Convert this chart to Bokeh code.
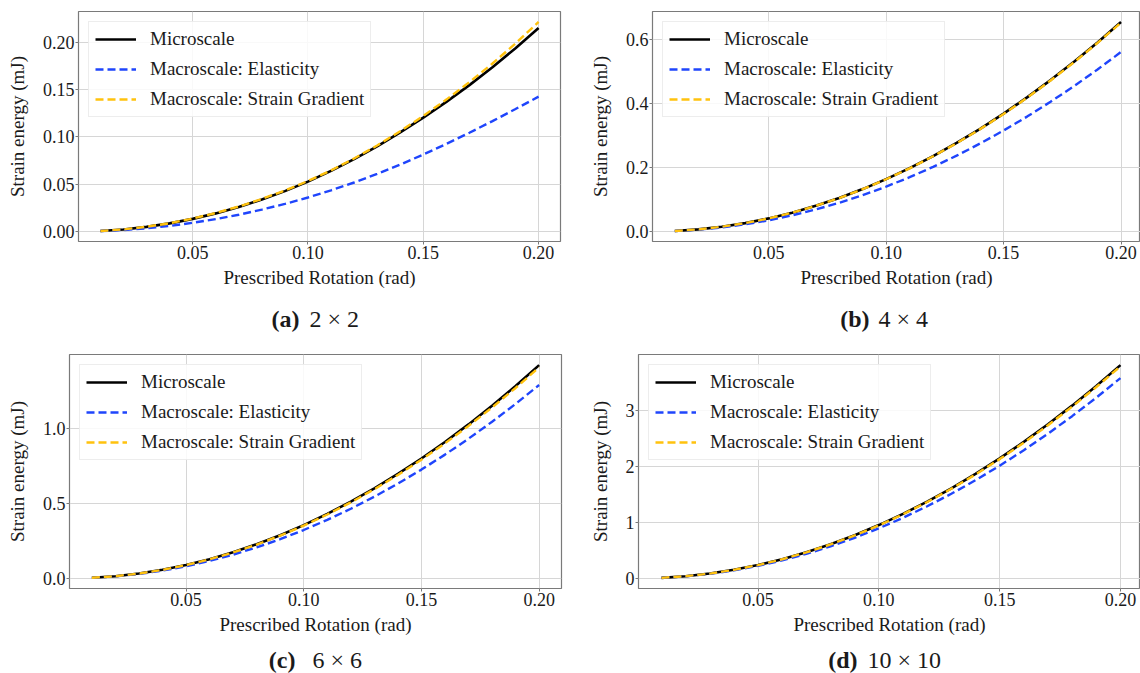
from bokeh.plotting import figure
from bokeh.models import Legend, LegendItem, Label, FixedTicker, Range1d, PrintfTickFormatter
from bokeh.layouts import column, row
from bokeh.embed import file_html
from bokeh.resources import INLINE

# ---------------- data ----------------
rotation = [0.01, 0.02, 0.03, 0.04, 0.05, 0.06, 0.07, 0.08, 0.09, 0.10,
            0.11, 0.12, 0.13, 0.14, 0.15, 0.16, 0.17, 0.18, 0.19, 0.20]

micro_2x2 = [0.0005, 0.0021, 0.0048, 0.0085, 0.0133, 0.0191, 0.0259, 0.0338, 0.0427, 0.0527,
             0.0641, 0.0765, 0.0900, 0.1048, 0.1205, 0.1372, 0.1549, 0.1738, 0.1940, 0.2155]
elast_2x2 = [0.0004, 0.0015, 0.0033, 0.0058, 0.0091, 0.0130, 0.0177, 0.0231, 0.0291, 0.0359,
             0.0435, 0.0518, 0.0609, 0.0708, 0.0814, 0.0927, 0.1045, 0.1168, 0.1296, 0.1427]
sg_2x2 = [0.0005, 0.0021, 0.0049, 0.0087, 0.0136, 0.0195, 0.0264, 0.0344, 0.0434, 0.0534,
          0.0646, 0.0772, 0.0910, 0.1061, 0.1223, 0.1396, 0.1581, 0.1778, 0.1990, 0.2218]

micro_4x4 = [0.0016, 0.0066, 0.0148, 0.0262, 0.0410, 0.0590, 0.0804, 0.1050, 0.1328, 0.1640,
             0.1984, 0.2362, 0.2772, 0.3214, 0.3690, 0.4198, 0.4740, 0.5314, 0.5920, 0.6560]
elast_4x4 = [0.0014, 0.0056, 0.0126, 0.0225, 0.0351, 0.0506, 0.0688, 0.0899, 0.1138, 0.1405,
             0.1700, 0.2023, 0.2374, 0.2754, 0.3161, 0.3597, 0.4060, 0.4552, 0.5072, 0.5620]
sg_4x4 = [0.0016, 0.0066, 0.0148, 0.0262, 0.0409, 0.0589, 0.0802, 0.1047, 0.1324, 0.1635,
          0.1978, 0.2355, 0.2764, 0.3205, 0.3679, 0.4186, 0.4726, 0.5298, 0.5903, 0.6540]

micro_6x6 = [0.0036, 0.0142, 0.0320, 0.0570, 0.0890, 0.1282, 0.1744, 0.2278, 0.2884, 0.3560,
             0.4308, 0.5126, 0.6016, 0.6978, 0.8010, 0.9114, 1.0288, 1.1534, 1.2852, 1.4250]
elast_6x6 = [0.0032, 0.0129, 0.0291, 0.0517, 0.0808, 0.1163, 0.1583, 0.2067, 0.2616, 0.3230,
             0.3908, 0.4651, 0.5459, 0.6331, 0.7268, 0.8269, 0.9335, 1.0465, 1.1660, 1.2920]
sg_6x6 = [0.0035, 0.0141, 0.0317, 0.0564, 0.0881, 0.1269, 0.1727, 0.2256, 0.2855, 0.3525,
          0.4265, 0.5076, 0.5957, 0.6909, 0.7931, 0.9024, 1.0187, 1.1421, 1.2725, 1.4100]

micro_10x10 = [0.0095, 0.0381, 0.0858, 0.1525, 0.2383, 0.3431, 0.4670, 0.6099, 0.7719, 0.9530,
               1.1531, 1.3723, 1.6106, 1.8679, 2.1443, 2.4397, 2.7542, 3.0877, 3.4403, 3.8120]
elast_10x10 = [0.0090, 0.0358, 0.0806, 0.1432, 0.2238, 0.3222, 0.4386, 0.5728, 0.7250, 0.8950,
               1.0830, 1.2888, 1.5126, 1.7542, 2.0138, 2.2912, 2.5866, 2.8998, 3.2310, 3.5800]
sg_10x10 = [0.0095, 0.0379, 0.0853, 0.1516, 0.2369, 0.3411, 0.4643, 0.6064, 0.7675, 0.9475,
            1.1465, 1.3644, 1.6013, 1.8571, 2.1319, 2.4256, 2.7383, 3.0699, 3.4205, 3.7900]

series_names = ["Microscale", "Macroscale: Elasticity", "Macroscale: Strain Gradient"]

x_ticks = [0.05, 0.10, 0.15, 0.20]
x_tick_labels = ["0.05", "0.10", "0.15", "0.20"]

y_ticks_2x2 = [0.0, 0.05, 0.10, 0.15, 0.20]
y_labels_2x2 = ["0.00", "0.05", "0.10", "0.15", "0.20"]
y_ticks_4x4 = [0.0, 0.2, 0.4, 0.6]
y_labels_4x4 = ["0.0", "0.2", "0.4", "0.6"]
y_ticks_6x6 = [0.0, 0.5, 1.0]
y_labels_6x6 = ["0.0", "0.5", "1.0"]
y_ticks_10x10 = [0, 1, 2, 3]
y_labels_10x10 = ["0", "1", "2", "3"]

x_title = "Prescribed Rotation (rad)"
y_title = "Strain energy (mJ)"

captions = [("(a)", "2 × 2"), ("(b)", "4 × 4"), ("(c)", "6 × 6"), ("(d)", "10 × 10")]

# ---------------- styling ----------------
FONT = "Liberation Serif"
TXT = "#1a1a1a"
C_MICRO = "#000000"
C_ELAS = "#1f45fc"
C_SG = "#ffc20e"


def pad_range(vals, frac=0.05):
    lo, hi = min(vals), max(vals)
    r = hi - lo
    return lo - frac * r, hi + frac * r


def panel(width, height, borders, micro, elas, sg, yt, yl, x_end=None):
    bl, br, bt, bb = borders
    x0, x1 = pad_range(rotation)
    if x_end is not None:
        x1 = x_end
    y0, y1 = pad_range(micro + elas + sg)
    p = figure(width=width, height=height, output_backend="svg", toolbar_location=None,
               x_range=Range1d(x0, x1), y_range=Range1d(y0, y1),
               min_border_left=bl, min_border_right=br, min_border_top=bt, min_border_bottom=bb)
    p.background_fill_color = "white"
    p.border_fill_color = "white"
    p.outline_line_color = "#7a7a7a"
    p.outline_line_width = 1.2

    r1 = p.line(rotation, micro, line_color=C_MICRO, line_width=2.6)
    r2 = p.line(rotation, elas, line_color=C_ELAS, line_width=2.4, line_dash="8 4")
    r3 = p.line(rotation, sg, line_color=C_SG, line_width=2.4, line_dash="8 4")

    for ax in (p.xaxis[0], p.yaxis[0]):
        ax.axis_line_color = None
        ax.major_tick_line_color = "#7a7a7a"
        ax.major_tick_out = 3
        ax.major_tick_in = 0
        ax.minor_tick_line_color = None
        ax.major_label_text_font = FONT
        ax.major_label_text_font_size = "18px"
        ax.major_label_text_color = TXT
        ax.axis_label_text_font = FONT
        ax.axis_label_text_font_size = "19px"
        ax.axis_label_text_font_style = "normal"
        ax.axis_label_text_color = TXT

    p.xaxis.ticker = FixedTicker(ticks=x_ticks)
    p.xaxis.formatter = PrintfTickFormatter(format="%.2f")
    p.xaxis.major_label_overrides = dict(zip(x_ticks, x_tick_labels))
    p.xaxis.axis_label = x_title
    p.xaxis.major_label_standoff = 1
    p.xaxis.axis_label_standoff = 5

    p.yaxis.ticker = FixedTicker(ticks=yt)
    p.yaxis.major_label_overrides = dict(zip(yt, yl))
    p.yaxis.axis_label = y_title
    p.yaxis.major_label_standoff = 1
    p.yaxis.axis_label_standoff = 12

    p.xgrid.grid_line_color = "#d6d6d6"
    p.ygrid.grid_line_color = "#d6d6d6"
    p.xgrid.ticker = FixedTicker(ticks=x_ticks)
    p.ygrid.ticker = FixedTicker(ticks=yt)

    legend = Legend(items=[LegendItem(label=series_names[0], renderers=[r1]),
                           LegendItem(label=series_names[1], renderers=[r2]),
                           LegendItem(label=series_names[2], renderers=[r3])],
                    location="top_left")
    legend.margin = 10
    legend.padding = 6
    legend.spacing = 8
    legend.glyph_width = 41
    legend.glyph_height = 20
    legend.label_height = 20
    legend.label_standoff = 14
    legend.label_text_font = FONT
    legend.label_text_font_size = "19px"
    legend.label_text_color = TXT
    legend.background_fill_color = "white"
    legend.background_fill_alpha = 0.85
    legend.border_line_color = "#dcdcdc"
    legend.border_line_width = 1
    p.add_layout(legend, "center")
    return p


def caption(width, height, cap, bold_right, text_left, y_mid):
    c = figure(width=width, height=height, output_backend="svg", toolbar_location=None,
               x_range=Range1d(0, width), y_range=Range1d(0, height),
               x_axis_type=None, y_axis_type=None, min_border=0)
    c.outline_line_color = None
    c.xgrid.visible = False
    c.ygrid.visible = False
    c.background_fill_color = "white"
    c.border_fill_color = "white"
    c.add_layout(Label(x=bold_right, y=y_mid, text=cap[0], text_font=FONT,
                       text_font_style="bold", text_font_size="24px", text_color=TXT,
                       text_align="right", text_baseline="middle"))
    c.add_layout(Label(x=text_left, y=y_mid, text=cap[1], text_font=FONT,
                       text_font_size="24px", text_color=TXT,
                       text_align="left", text_baseline="middle"))
    return c


pa = panel(570, 300, (78, 10, 11, 58), micro_2x2, elast_2x2, sg_2x2, y_ticks_2x2, y_labels_2x2)
pb = panel(570, 300, (82, 0, 7, 59), micro_4x4, elast_4x4, sg_4x4, y_ticks_4x4, y_labels_4x4,
           x_end=0.2083)
ca = caption(570, 40, captions[0], 299, 309, 22)
cb = caption(570, 40, captions[1], 299, 308, 22)

pc = panel(570, 302, (69, 9, 14, 54), micro_6x6, elast_6x6, sg_6x6, y_ticks_6x6, y_labels_6x6)
pd_ = panel(570, 302, (68, 0, 7, 54), micro_10x10, elast_10x10, sg_10x10,
            y_ticks_10x10, y_labels_10x10, x_end=0.2083)
cc = caption(570, 31, captions[2], 295, 312, 14)
cd = caption(570, 31, captions[3], 287, 297, 14)

layout = column(row(pa, pb), row(ca, cb), row(pc, pd_), row(cc, cd))

with open("out.html", "w") as f:
    f.write(file_html(layout, INLINE))
